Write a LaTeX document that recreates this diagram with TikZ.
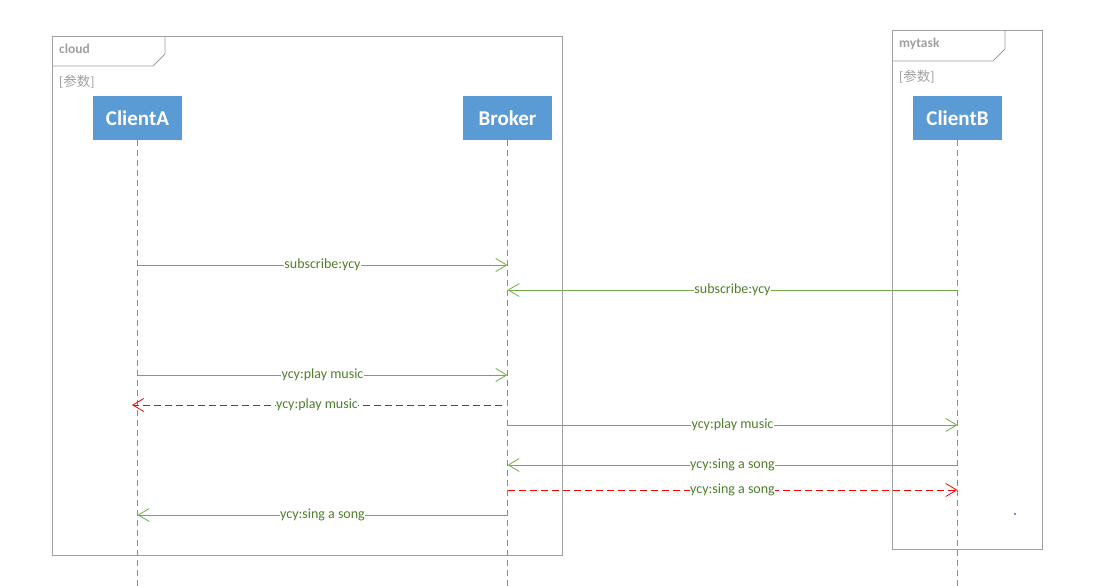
\documentclass[tikz,border=0pt]{standalone}
\usepackage{fontspec}
\setmainfont{Carlito}
\newfontfamily\cjk{Noto Sans CJK SC}
\usetikzlibrary{arrows.meta}
\definecolor{frameg}{HTML}{A0A0A0}
\definecolor{boxblue}{HTML}{5B9BD5}
\definecolor{lifeblue}{HTML}{6A93C4}
\definecolor{msggreen}{HTML}{70AD47}
\definecolor{txtgreen}{HTML}{4E7F2A}
\definecolor{msgred}{HTML}{FF0000}
\tikzset{
  frameline/.style={draw=frameg, line width=0.9pt},
  framelabel/.style={anchor=west, text=frameg, font=\bfseries\fontsize{13.5}{15}\selectfont, inner sep=0pt},
  paramlabel/.style={anchor=west, text=frameg, font=\fontsize{13.5}{15}\selectfont, inner sep=0pt},
  actor/.style={fill=boxblue, text=white, minimum width=89pt, minimum height=44pt, inner sep=0pt, font=\bfseries\fontsize{21}{24}\selectfont},
  lifeline/.style={draw=lifeblue, line width=0.8pt, dash pattern=on 6pt off 4pt},
  msg/.style={draw=msggreen, line width=0.8pt, -{Straight Barb[length=11pt,width=13pt,line width=0.8pt]}},
  reply/.style={draw=msgred, line width=0.8pt, dash pattern=on 7pt off 4pt, -{Straight Barb[length=11pt,width=13pt,line width=0.8pt]}},
  mlabel/.style={fill=white, text=txtgreen, inner sep=0.5pt, font=\fontsize{14}{16}\selectfont},
}
\begin{document}
\begin{tikzpicture}[x=1pt,y=-1pt]
\useasboundingbox (0,0) rectangle (1096,586);
% frames
\draw[frameline] (52,36) rectangle (562,555);
\draw[frameline] (52,66) -- (153,66) -- (165,54) -- (165,36);
\node[framelabel] (cloudlbl) at (59,49) {cloud};
\node[paramlabel] (cloudpar) at (59,82) {[{\cjk 参数}]};
\draw[frameline] (892,30) rectangle (1042,549);
\draw[frameline] (892,61) -- (993,61) -- (1005,49) -- (1005,30);
\node[framelabel] (tasklbl) at (899,44) {mytask};
\node[paramlabel] (taskpar) at (899,77) {[{\cjk 参数}]};
% actors
\node[actor] (A) at (137.5,118) {ClientA};
\node[actor] (Br) at (507.5,118) {Broker};
\node[actor] (B) at (957.5,118) {ClientB};
% lifelines
\coordinate (Aend) at (137.5,586);
\coordinate (Brend) at (507.5,586);
\coordinate (Bend) at (957.5,586);
\draw[lifeline] (A.south) -- (Aend);
\draw[lifeline] (Br.south) -- (Brend);
\draw[lifeline] (B.south) -- (Bend);
% messages
\draw[msg] (137.5,265) -- node[mlabel]{subscribe:ycy} (507.5,265);
\draw[msg] (957.5,290) -- node[mlabel]{subscribe:ycy} (507.5,290);
\draw[msg] (137.5,375) -- node[mlabel]{ycy:play music} (507.5,375);
\draw[reply] (502,405) -- node[mlabel]{ycy:play music} (132,405);
\draw[msg] (507.5,425) -- node[mlabel]{ycy:play music} (957.5,425);
\draw[msg] (957.5,465) -- node[mlabel]{ycy:sing a song} (507.5,465);
\draw[reply] (507.5,490) -- node[mlabel]{ycy:sing a song} (957.5,490);
\draw[msg] (507.5,515) -- node[mlabel]{ycy:sing a song} (137.5,515);
% stray dot
\fill[blue] (1015,514) circle (0.8pt);
\end{tikzpicture}
\end{document}
